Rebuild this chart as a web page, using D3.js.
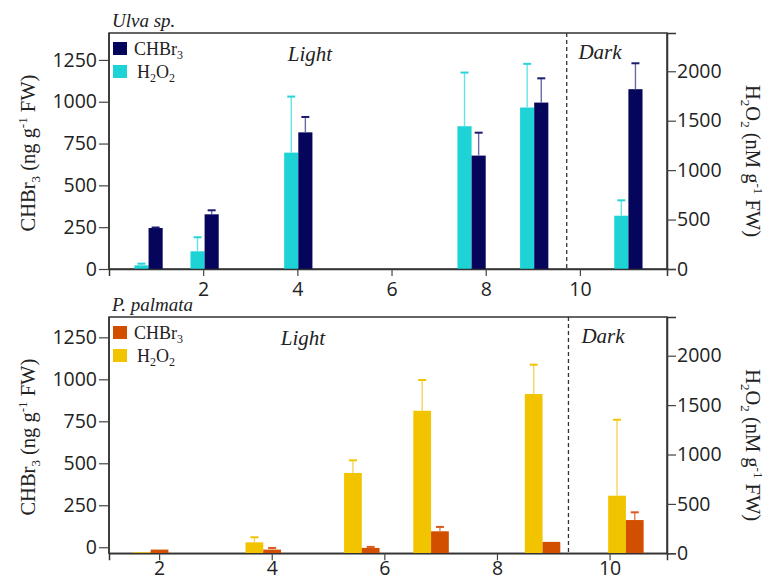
<!DOCTYPE html>
<html><head><meta charset="utf-8">
<script src="https://cdn.jsdelivr.net/npm/d3@7"></script>
<style>
html,body{margin:0;padding:0;background:#fff;}
svg{display:block;}
</style></head>
<body>
<svg id="chart" width="768" height="581"></svg>
<script>
// ---------- DATA ----------
const xTicks = [2, 4, 6, 8, 10];
const leftTicks = [0, 250, 500, 750, 1000, 1250];
const rightTicks = [0, 500, 1000, 1500, 2000];

// Ulva sp.
const ulvaTime = [0.84, 2.03, 4.02, 7.70, 9.03, 11.03];
const ulvaCHBr3 = [245, 327, 817, 678, 995, 1075];
const ulvaCHBr3Err = [3, 24, 92, 137, 145, 155];
const ulvaH2O2 = [37, 179, 1177, 1444, 1633, 539];
const ulvaH2O2Err = [17, 142, 567, 543, 442, 156];
const ulvaDarkStart = 9.72;

// P. palmata
const palmTime = [1.85, 3.85, 5.6, 6.83, 8.81, 10.29];
const palmCHBr3 = [-14, -14, -4, 95, 32, 162];
const palmCHBr3Err = [0, 10, 6, 26, 0, 46];
const palmH2O2 = [10, 111, 813, 1443, 1612, 583];
const palmH2O2Err = [0, 51, 128, 311, 297, 769];
const palmDarkStart = 9.27;

// ---------- DRAW ----------
const svg = d3.select("#chart");
const serif = '"Liberation Serif","Times New Roman",serif';
const fmt = d3.format("d");

function panel(cfg) {
  const g = svg.append("g");
  const L = 109, R = 667;
  const x = d3.scaleLinear().domain(cfg.xDomain).range([L, R]);
  const yL = d3.scaleLinear().domain(cfg.leftDomain).range([cfg.bottom, cfg.top]);
  const yR = d3.scaleLinear().domain(cfg.rightDomain).range([cfg.bottom, cfg.top]);
  const bw = x(cfg.barW) - x(0);

  g.append("rect").attr("x", L).attr("y", cfg.top).attr("width", R - L).attr("height", cfg.bottom - cfg.top)
    .attr("fill", "none").attr("stroke", "#333").attr("stroke-width", 1.5);

  g.append("line").attr("x1", x(cfg.dark)).attr("x2", x(cfg.dark))
    .attr("y1", cfg.top).attr("y2", cfg.bottom)
    .attr("stroke", "#333").attr("stroke-width", 1.3).attr("stroke-dasharray", "4,3");

  const idx = d3.range(cfg.time.length);
  const base = yL(cfg.leftDomain[0]);

  g.selectAll(".h").data(idx).join("rect")
    .attr("x", i => x(cfg.time[i]) - bw).attr("width", bw)
    .attr("y", i => yR(Math.max(cfg.h2o2[i], 0))).attr("height", i => cfg.bottom - yR(Math.max(cfg.h2o2[i], 0)))
    .attr("fill", cfg.hColor);
  g.selectAll(".c").data(idx).join("rect")
    .attr("x", i => x(cfg.time[i])).attr("width", bw)
    .attr("y", i => yL(cfg.chbr3[i])).attr("height", i => base - yL(cfg.chbr3[i]))
    .attr("fill", cfg.cColor);

  function errs(vals, errv, yS, cx, lineC, capC) {
    idx.filter(i => errv[i] > 0).forEach(i => {
      const xc = cx(i), y0 = yS(vals[i]), y1 = yS(vals[i] + errv[i]);
      g.append("line").attr("x1", xc).attr("x2", xc).attr("y1", y0).attr("y2", y1)
        .attr("stroke", lineC).attr("stroke-width", 1.4);
      g.append("line").attr("x1", xc - 4).attr("x2", xc + 4).attr("y1", y1).attr("y2", y1)
        .attr("stroke", capC).attr("stroke-width", 2);
    });
  }
  errs(cfg.h2o2, cfg.h2o2Err, yR, i => x(cfg.time[i]) - bw / 2, cfg.hErrLine, cfg.hErrCap);
  errs(cfg.chbr3, cfg.chbr3Err, yL, i => x(cfg.time[i]) + bw / 2, cfg.cErrLine, cfg.cErrCap);

  const ax = g.append("g").attr("transform", `translate(0,${cfg.bottom})`)
    .call(d3.axisBottom(x).tickValues(xTicks).tickFormat(fmt).tickSize(7).tickPadding(cfg.xPad));
  const al = g.append("g").attr("transform", `translate(${L},0)`)
    .call(d3.axisLeft(yL).tickValues(leftTicks).tickFormat(fmt).tickSize(10).tickPadding(2));
  const ar = g.append("g").attr("transform", `translate(${R},0)`)
    .call(d3.axisRight(yR).tickValues(rightTicks).tickFormat(fmt).tickSize(9).tickPadding(1));
  [ax, al, ar].forEach(a => {
    a.select(".domain").attr("stroke", "#333").attr("stroke-width", 1.5);
    a.selectAll(".tick line").attr("stroke", "#444").attr("stroke-width", 1.2);
    a.selectAll(".tick text").attr("font-family", '"Open Sans",sans-serif').attr("font-size", 19.5).attr("fill", "#222");
  });
  al.select(".domain").attr("d", `M0,${cfg.top}V${cfg.bottom}`);

  g.append("text").attr("x", 112).attr("y", cfg.top - 6).attr("font-family", serif)
    .attr("font-style", "italic").attr("font-size", 19).attr("fill", "#222").text(cfg.title);

  g.append("text").attr("x", cfg.lightX).attr("y", cfg.top + 28).attr("text-anchor", "middle")
    .attr("font-family", serif).attr("font-style", "italic").attr("font-size", 21).attr("fill", "#222").text("Light");
  g.append("text").attr("x", cfg.darkX).attr("y", cfg.top + 26).attr("text-anchor", "middle")
    .attr("font-family", serif).attr("font-style", "italic").attr("font-size", 21).attr("fill", "#222").text("Dark");

  const lg = g.append("g").attr("font-family", serif).attr("font-size", 18).attr("fill", "#222");
  ["c", "h"].forEach((k, j) => {
    const col = k === "c" ? cfg.cColor : cfg.hColor;
    const yy = cfg.top + 9 + j * 23;
    lg.append("rect").attr("x", 113).attr("y", yy).attr("width", 14).attr("height", 13).attr("fill", col);
    const t = lg.append("text").attr("x", k === "c" ? 134 : 137).attr("y", yy + 13);
    if (k === "c") {
      t.append("tspan").text("CHBr");
      t.append("tspan").attr("font-size", 12).attr("dy", 4).text("3");
    } else {
      t.append("tspan").text("H");
      t.append("tspan").attr("font-size", 12).attr("dy", 4).text("2");
      t.append("tspan").attr("dy", -4).text("O");
      t.append("tspan").attr("font-size", 12).attr("dy", 4).text("2");
    }
  });

  const mid = (cfg.top + cfg.bottom) / 2;
  const lt = g.append("text").attr("transform", `translate(35,${mid + 2}) rotate(-90)`)
    .attr("text-anchor", "middle").attr("font-family", serif).attr("font-size", 20.5).attr("fill", "#222");
  lt.append("tspan").text("CHBr");
  lt.append("tspan").attr("font-size", 13).attr("dy", 5).text("3");
  lt.append("tspan").attr("dy", -5).text(" (ng g");
  lt.append("tspan").attr("font-size", 13).attr("dy", -8).text("-1");
  lt.append("tspan").attr("dy", 8).text(" FW)");

  const rt = g.append("text").attr("transform", `translate(746,${mid + 10}) rotate(90)`)
    .attr("text-anchor", "middle").attr("font-family", serif).attr("font-size", 20.5).attr("fill", "#222");
  rt.append("tspan").text("H");
  rt.append("tspan").attr("font-size", 13).attr("dy", 5).text("2");
  rt.append("tspan").attr("dy", -5).text("O");
  rt.append("tspan").attr("font-size", 13).attr("dy", 5).text("2");
  rt.append("tspan").attr("dy", -5).text(" (nM g");
  rt.append("tspan").attr("font-size", 13).attr("dy", -8).text("-1");
  rt.append("tspan").attr("dy", 8).text(" FW)");
}

panel({
  title: "Ulva sp.", top: 33, bottom: 269, xPad: 6,
  xDomain: [0, 11.85], leftDomain: [0, 1411], rightDomain: [0, 2387], barW: 0.3,
  time: ulvaTime, chbr3: ulvaCHBr3, chbr3Err: ulvaCHBr3Err, h2o2: ulvaH2O2, h2o2Err: ulvaH2O2Err,
  dark: ulvaDarkStart, lightX: 310, darkX: 600,
  cColor: "#05055c", hColor: "#1dd3d6",
  cErrLine: "#6a6aa8", cErrCap: "#1b1b70", hErrLine: "#60e6ea", hErrCap: "#2ad2d8"
});

panel({
  title: "P. palmata", top: 317, bottom: 553.3, xPad: 1,
  xDomain: [1.11, 11.02], leftDomain: [-36, 1371], rightDomain: [0, 2392], barW: 0.315,
  time: palmTime, chbr3: palmCHBr3, chbr3Err: palmCHBr3Err, h2o2: palmH2O2, h2o2Err: palmH2O2Err,
  dark: palmDarkStart, lightX: 303, darkX: 603,
  cColor: "#d24f00", hColor: "#f2c400",
  cErrLine: "#e2824a", cErrCap: "#d85a1e", hErrLine: "#f6d45a", hErrCap: "#f2c400"
});
</script>
</body></html>
